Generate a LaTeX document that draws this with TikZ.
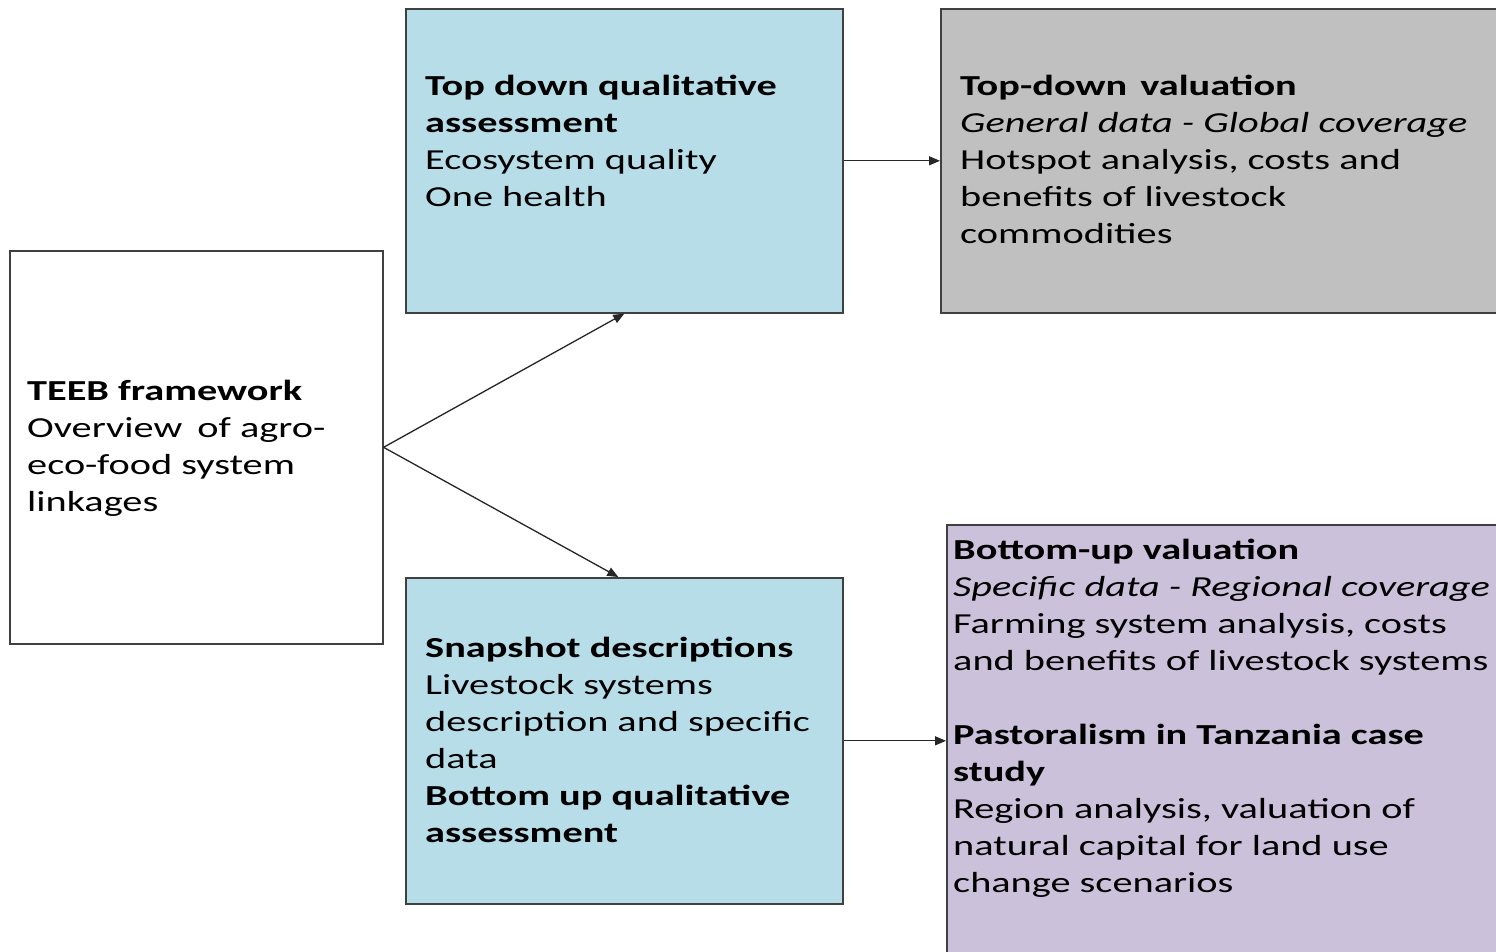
\documentclass[tikz,border=0pt]{standalone}
\usepackage{fontspec}
\setmainfont{Carlito}[FakeStretch=1.39]
\usetikzlibrary{arrows.meta,calc}
\definecolor{boxblue}{HTML}{B7DDE8}
\definecolor{boxgray}{HTML}{C0C0C0}
\definecolor{boxpurple}{HTML}{CCC1DA}
\definecolor{edge}{HTML}{404040}
\tikzset{
  box/.style={draw=edge, line width=1.6pt, anchor=north west, inner sep=0pt},
  txt/.style={anchor=north west, align=left, inner sep=0pt, font=\fontsize{29}{37}\selectfont},
  conn/.style={draw=black!85, line width=1.3pt, -{Triangle[length=11pt,width=9pt]}}
}
\begin{document}
\begin{tikzpicture}[x=1pt,y=-1pt]
\useasboundingbox (0,0) rectangle (1496,951);
\clip (0,0) rectangle (1496,951);
\fill[white] (0,0) rectangle (1496,951);
% boxes
\node[box, fill=white, minimum width=373pt, minimum height=393pt] (teeb) at (9,250) {};
\node[box, fill=boxblue, minimum width=437pt, minimum height=304pt] (tq) at (405,8) {};
\node[box, fill=boxgray, minimum width=600pt, minimum height=304pt] (tv) at (940,8) {};
\node[box, fill=boxblue, minimum width=437pt, minimum height=326pt] (bq) at (405,577) {};
\node[box, fill=boxpurple, minimum width=600pt, minimum height=460pt] (bv) at (946,524) {};
% texts
\node[txt] (teebtxt) at (27,380) {\textbf{TEEB framework}\\Overview \hspace{6pt}of agro-\\eco-food system\\linkages};
\node[txt] (tqtxt) at (425,75) {\textbf{Top down qualitative}\\\textbf{assessment}\\Ecosystem quality\\One health};
\node[txt] (tvtxt) at (960,75) {\textbf{Top-down \hspace{4pt}valuation}\\\textit{General data - Global coverage}\\Hotspot analysis, costs and\\benefits of livestock\\commodities};
\node[txt] (bqtxt) at (425,637) {\textbf{Snapshot descriptions}\\Livestock systems\\description and specific\\data\\\textbf{Bottom up qualitative}\\\textbf{assessment}};
\node[txt] (bvtxt) at (953,539) {\textbf{Bottom-up valuation}\\\textit{Specific data - Regional coverage}\\Farming system analysis, costs\\and benefits of livestock systems\\[37pt]\textbf{Pastoralism in Tanzania case}\\\textbf{study}\\Region analysis, valuation of\\natural capital for land use\\change scenarios};
% connectors
\draw[conn] (teeb.east) -- (tq.south);
\draw[conn] (teeb.east) -- ($(bq.north)+(-6,0)$);
\draw[conn] (tq.east) -- (tq.east -| tv.west);
\draw[conn] (bq.east) -- (bq.east -| bv.west);
\end{tikzpicture}
\end{document}
